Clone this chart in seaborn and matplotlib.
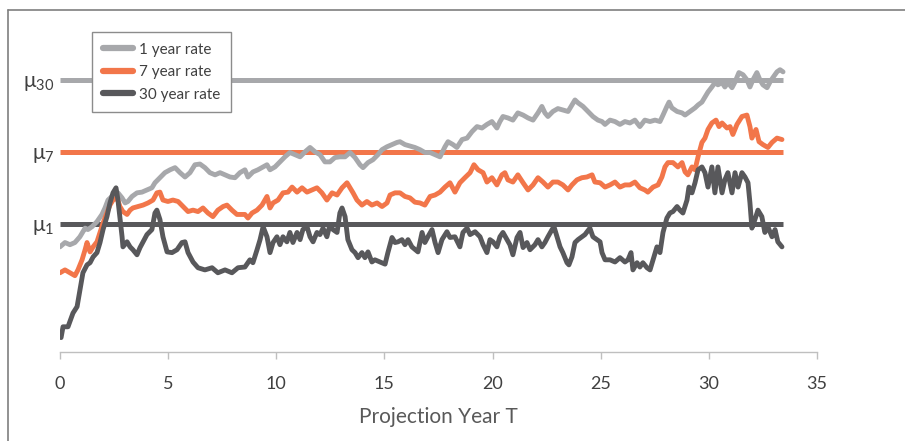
import matplotlib
matplotlib.use("Agg")
import matplotlib.pyplot as plt
from matplotlib.lines import Line2D
import seaborn as sns

# long-run means (drawn as flat reference lines)
mu_labels = ["μ$_{30}$", "μ$_{7}$", "μ$_{1}$"]
mu_levels = [3.0, 2.0, 1.0]
mu_end = 33.43

# 1 year rate
t_1y = [0.00, 0.23, 0.46, 0.69, 0.92, 1.16, 1.29, 1.48, 1.71, 1.94, 2.08, 2.22, 2.40, 2.54, 2.68, 2.87,
        3.01, 3.14, 3.33, 3.56, 3.79, 4.02, 4.25, 4.39, 4.62, 4.85, 5.09, 5.32, 5.55, 5.78, 6.01, 6.24,
        6.47, 6.70, 6.93, 7.17, 7.40, 7.63, 7.86, 8.09, 8.32, 8.55, 8.69, 8.92, 9.15, 9.39, 9.57, 9.71,
        9.94, 10.17, 10.40, 10.63, 10.86, 11.10, 11.33, 11.56, 11.79, 12.02, 12.25, 12.48, 12.71, 12.94,
        13.18, 13.41, 13.64, 13.87, 14.01, 14.24, 14.47, 14.70, 14.89, 15.12, 15.35, 15.58, 15.72, 15.95,
        16.18, 16.41, 16.64, 16.87, 17.11, 17.34, 17.57, 17.80, 17.94, 18.17, 18.35, 18.59, 18.82, 19.05,
        19.28, 19.51, 19.74, 19.97, 20.20, 20.34, 20.48, 20.71, 20.94, 21.17, 21.41, 21.64, 21.87, 22.10,
        22.28, 22.42, 22.56, 22.79, 23.02, 23.25, 23.49, 23.67, 23.81, 23.95, 24.18, 24.41, 24.64, 24.87,
        25.06, 25.20, 25.43, 25.66, 25.89, 26.12, 26.35, 26.58, 26.81, 27.04, 27.28, 27.51, 27.74, 27.88,
        28.06, 28.16, 28.29, 28.53, 28.76, 28.90, 29.13, 29.36, 29.50, 29.68, 29.82, 29.96, 30.14, 30.28,
        30.42, 30.61, 30.74, 30.88, 31.07, 31.21, 31.39, 31.58, 31.76, 31.90, 32.04, 32.22, 32.36, 32.50,
        32.69, 32.83, 32.96, 33.15, 33.29, 33.43]
r_1y = [0.68, 0.74, 0.71, 0.74, 0.82, 0.94, 0.92, 0.96, 1.03, 1.13, 1.22, 1.33, 1.38, 1.40, 1.43, 1.36,
        1.29, 1.31, 1.38, 1.43, 1.44, 1.47, 1.50, 1.57, 1.64, 1.71, 1.75, 1.78, 1.71, 1.65, 1.71, 1.82,
        1.83, 1.78, 1.71, 1.68, 1.71, 1.68, 1.65, 1.64, 1.71, 1.75, 1.65, 1.72, 1.75, 1.79, 1.82, 1.75,
        1.79, 1.86, 1.93, 1.99, 1.96, 1.93, 2.00, 2.06, 2.00, 1.96, 1.86, 1.86, 1.92, 1.93,
        1.93, 1.99, 1.92, 1.82, 1.78, 1.85, 1.89, 1.96, 2.03, 2.07, 2.10, 2.13, 2.14, 2.10,
        2.08, 2.06, 2.03, 1.99, 1.99, 1.96, 1.93, 2.07, 2.14, 2.10, 2.06, 2.17, 2.19, 2.28,
        2.35, 2.33, 2.38, 2.42, 2.33, 2.42, 2.49, 2.47, 2.44, 2.54, 2.51, 2.47, 2.44, 2.54,
        2.63, 2.54, 2.49, 2.56, 2.60, 2.58, 2.56, 2.65, 2.72, 2.68, 2.63, 2.56, 2.49, 2.44,
        2.42, 2.38, 2.44, 2.42, 2.38, 2.42, 2.40, 2.44, 2.35, 2.44, 2.42, 2.44, 2.42, 2.51,
        2.63, 2.69, 2.61, 2.56, 2.54, 2.51, 2.56, 2.61, 2.65, 2.69, 2.76, 2.83, 2.90, 2.96,
        2.93, 2.96, 2.90, 2.96, 2.89, 2.97, 3.10, 3.07, 3.00, 2.90, 3.00, 3.10, 3.00, 2.93,
        2.89, 2.97, 3.03, 3.11, 3.14, 3.11]

# 7 year rate
t_7y = [0.00, 0.23, 0.46, 0.69, 0.83, 1.02, 1.16, 1.25, 1.39, 1.53, 1.71, 1.85, 1.99, 2.17, 2.31, 2.45,
        2.64, 2.77, 2.91, 3.10, 3.24, 3.37, 3.61, 3.84, 4.07, 4.30, 4.48, 4.62, 4.76, 4.99, 5.22, 5.46,
        5.69, 5.92, 6.15, 6.38, 6.61, 6.84, 7.07, 7.30, 7.54, 7.72, 7.95, 8.18, 8.32, 8.55, 8.69, 8.88,
        9.11, 9.34, 9.57, 9.71, 9.85, 10.08, 10.31, 10.54, 10.73, 10.96, 11.19, 11.42, 11.65, 11.88,
        12.11, 12.34, 12.58, 12.81, 13.04, 13.27, 13.41, 13.55, 13.73, 13.96, 14.19, 14.42, 14.66, 14.89,
        15.12, 15.26, 15.49, 15.72, 15.95, 16.18, 16.41, 16.64, 16.87, 17.11, 17.34, 17.57, 17.80, 18.03,
        18.26, 18.49, 18.72, 18.96, 19.14, 19.33, 19.56, 19.74, 19.97, 20.20, 20.43, 20.57, 20.71, 20.94,
        21.17, 21.41, 21.64, 21.87, 22.10, 22.33, 22.56, 22.79, 23.02, 23.25, 23.49, 23.67, 23.90, 24.13,
        24.36, 24.60, 24.73, 24.97, 25.20, 25.43, 25.66, 25.89, 26.12, 26.35, 26.58, 26.81, 27.04, 27.18,
        27.42, 27.65, 27.83, 27.97, 28.11, 28.34, 28.57, 28.76, 28.90, 29.03, 29.22, 29.36, 29.50, 29.68,
        29.82, 29.96, 30.14, 30.33, 30.47, 30.61, 30.84, 30.98, 31.11, 31.30, 31.53, 31.76, 31.90, 31.99,
        32.18, 32.32, 32.50, 32.73, 32.92, 33.15, 33.38]
r_7y = [0.32, 0.36, 0.32, 0.28, 0.36, 0.50, 0.64, 0.74, 0.61, 0.68, 0.75, 0.88, 1.01, 1.15, 1.26, 1.33,
        1.36, 1.24, 1.17, 1.13, 1.19, 1.22, 1.24, 1.26, 1.29, 1.33, 1.43, 1.44, 1.33, 1.31, 1.33, 1.31,
        1.24, 1.17, 1.19, 1.17, 1.22, 1.15, 1.10, 1.19, 1.24, 1.26, 1.19, 1.13, 1.13, 1.13, 1.08, 1.15,
        1.19, 1.26, 1.38, 1.22, 1.29, 1.33, 1.43, 1.44, 1.51, 1.44, 1.50, 1.44, 1.47, 1.50,
        1.43, 1.33, 1.43, 1.40, 1.50, 1.57, 1.50, 1.43, 1.33, 1.26, 1.31, 1.26, 1.29, 1.24,
        1.29, 1.40, 1.43, 1.43, 1.38, 1.36, 1.30, 1.29, 1.26, 1.38, 1.40, 1.44, 1.51, 1.57,
        1.44, 1.57, 1.64, 1.71, 1.82, 1.75, 1.71, 1.58, 1.64, 1.54, 1.68, 1.71, 1.61, 1.58,
        1.68, 1.57, 1.47, 1.54, 1.64, 1.58, 1.51, 1.58, 1.58, 1.54, 1.47, 1.54, 1.61, 1.64,
        1.65, 1.68, 1.58, 1.57, 1.51, 1.54, 1.58, 1.51, 1.54, 1.54, 1.58, 1.50, 1.47, 1.44,
        1.51, 1.54, 1.65, 1.79, 1.85, 1.85, 1.79, 1.85, 1.72, 1.68, 1.79, 1.75, 1.93, 2.13,
        2.19, 2.31, 2.40, 2.44, 2.35, 2.40, 2.33, 2.35, 2.24, 2.38, 2.49, 2.51, 2.35, 2.19,
        2.31, 2.14, 2.10, 2.06, 2.13, 2.19, 2.17]

# 30 year rate
t_30y = [0.05, 0.14, 0.37, 0.60, 0.79, 0.92, 1.06, 1.25, 1.39, 1.53, 1.71, 1.85, 1.99, 2.17, 2.31, 2.45,
         2.59, 2.68, 2.87, 2.91, 3.10, 3.24, 3.37, 3.56, 3.70, 3.84, 4.02, 4.25, 4.39, 4.48, 4.62, 4.76,
         4.95, 5.18, 5.41, 5.64, 5.78, 5.92, 6.15, 6.38, 6.70, 7.03, 7.30, 7.63, 7.95, 8.23, 8.55, 8.78,
         8.92, 9.11, 9.25, 9.39, 9.57, 9.71, 9.85, 10.03, 10.17, 10.31, 10.49, 10.63, 10.77, 10.96, 11.10,
         11.23, 11.42, 11.56, 11.70, 11.88, 12.02, 12.16, 12.34, 12.48, 12.62, 12.81, 12.94, 13.04, 13.18,
         13.31, 13.50, 13.64, 13.78, 13.96, 14.10, 14.24, 14.42, 14.56, 14.79, 15.03, 15.16, 15.35, 15.49,
         15.63, 15.81, 15.95, 16.09, 16.27, 16.55, 16.74, 16.87, 17.01, 17.20, 17.34, 17.48, 17.66, 17.89,
         18.03, 18.26, 18.49, 18.63, 18.82, 18.96, 19.19, 19.42, 19.56, 19.74, 19.88, 20.02, 20.20, 20.34,
         20.48, 20.67, 20.80, 20.94, 21.13, 21.27, 21.41, 21.59, 21.73, 21.96, 22.10, 22.28, 22.42, 22.56,
         22.75, 22.84, 22.98, 23.12, 23.25, 23.44, 23.53, 23.67, 23.81, 23.95, 24.13, 24.27, 24.50, 24.64,
         24.83, 24.97, 25.06, 25.20, 25.43, 25.66, 25.89, 26.12, 26.26, 26.40, 26.49, 26.68, 26.81, 26.95,
         27.14, 27.28, 27.42, 27.60, 27.74, 27.88, 28.06, 28.20, 28.34, 28.53, 28.66, 28.80, 28.99, 29.08,
         29.22, 29.36, 29.50, 29.68, 29.82, 29.96, 30.14, 30.28, 30.42, 30.61, 30.74, 30.88, 31.07, 31.21,
         31.35, 31.53, 31.67, 31.81, 31.90, 31.99, 32.13, 32.27, 32.45, 32.59, 32.73, 32.92, 33.06, 33.19,
         33.38]
r_30y = [-0.58, -0.43, -0.43, -0.24, -0.15, 0.08, 0.32, 0.43, 0.46, 0.54, 0.60, 0.74, 0.92, 1.10, 1.29, 1.43,
         1.50, 1.33, 0.82, 0.68, 0.75, 0.68, 0.64, 0.57, 0.67, 0.75, 0.85, 0.92, 1.15, 1.19, 1.06, 0.82,
         0.61, 0.60, 0.64, 0.74, 0.75, 0.60, 0.47, 0.39, 0.36, 0.39, 0.32, 0.36, 0.32, 0.39, 0.40, 0.50,
         0.46, 0.64, 0.78, 0.96, 0.82, 0.60, 0.74, 0.82, 0.71, 0.82, 0.75, 0.88, 0.74, 0.88, 0.78,
         0.92, 0.96, 0.82, 0.75, 0.88, 0.85, 0.94, 0.82, 0.99, 0.92, 0.88, 1.15, 1.22, 1.10,
         0.78, 0.64, 0.60, 0.53, 0.60, 0.53, 0.61, 0.47, 0.50, 0.47, 0.44, 0.60, 0.81, 0.74,
         0.75, 0.78, 0.71, 0.78, 0.68, 0.61, 0.88, 0.74, 0.82, 0.92, 0.74, 0.60, 0.78, 0.89,
         0.81, 0.82, 0.68, 0.88, 0.94, 0.85, 0.89, 0.82, 0.71, 0.60, 0.78, 0.75, 0.68, 0.82,
         0.88, 0.78, 0.71, 0.57, 0.81, 0.88, 0.67, 0.74, 0.64, 0.71, 0.78, 0.68, 0.74, 0.82,
         0.92, 0.96, 0.82, 0.68, 0.60, 0.46, 0.43, 0.54, 0.74, 0.78, 0.82, 0.85, 0.94, 0.82,
         0.78, 0.75, 0.60, 0.50, 0.50, 0.47, 0.53, 0.47, 0.50, 0.60, 0.36, 0.46, 0.40, 0.46,
         0.39, 0.36, 0.50, 0.68, 0.60, 0.88, 1.08, 1.15, 1.17, 1.24, 1.19, 1.15, 1.33, 1.51,
         1.43, 1.57, 1.75, 1.79, 1.71, 1.51, 1.79, 1.43, 1.79, 1.43, 1.61, 1.71, 1.43, 1.71,
         1.51, 1.71, 1.65, 1.57, 1.29, 0.94, 1.06, 1.19, 1.10, 0.88, 0.96, 0.82, 0.92, 0.75,
         0.68]

series_names = ["1 year rate", "7 year rate", "30 year rate"]
colors = ["#A7A8AB", "#F2764A", "#58585B"]

sns.set_theme(style="white")
plt.rcParams["font.family"] = ["Lato", "DejaVu Sans"]
plt.rcParams["mathtext.fontset"] = "custom"
plt.rcParams["mathtext.rm"] = "Lato"
plt.rcParams["mathtext.default"] = "regular"

fig = plt.figure(figsize=(9.05, 4.41), dpi=100)
ax = fig.add_axes([60 / 905, 1 - 352 / 441, (817 - 60) / 905, (352 - 20) / 441])

# flat mean lines
for lvl, c in zip(mu_levels, colors):
    ax.hlines(lvl, 0, mu_end, colors=c, lw=3.6, zorder=1)

for t, r, name, c in zip([t_1y, t_7y, t_30y], [r_1y, r_7y, r_30y], series_names, colors):
    sns.lineplot(x=t, y=r, ax=ax, color=c, lw=3.5, label=name, estimator=None,
                 solid_joinstyle="round", solid_capstyle="round", zorder=2)

ax.set_xlim(0, 35)
ax.set_ylim(-0.78, 3.83)
ax.set_xticks(range(0, 36, 5))
ax.set_yticks(mu_levels)
ax.set_yticklabels(mu_labels, fontsize=15, color="#404040")
ax.tick_params(axis="y", length=0, pad=4)
ax.tick_params(axis="x", direction="out", length=5, width=1, color="#BFBFBF",
               labelsize=13, labelcolor="#404040", pad=12, bottom=True)
for side in ["top", "right", "left"]:
    ax.spines[side].set_visible(False)
ax.spines["bottom"].set_color("#BFBFBF")
ax.spines["bottom"].set_linewidth(1)
ax.set_xlabel("Projection Year T", fontsize=15, color="#595959")
ax.xaxis.set_label_coords(0.5, -0.165)
ax.set_ylabel("")

leg = ax.legend(loc="upper left", bbox_to_anchor=(92 / 905, 1 - 32 / 441), bbox_transform=fig.transFigure,
                borderaxespad=0, fontsize=11, frameon=True, fancybox=False, handlelength=2.0,
                handletextpad=0.4, labelspacing=0.55, borderpad=0.7)
leg.get_frame().set_edgecolor("#8C8C8C")
leg.get_frame().set_linewidth(1)
leg.get_frame().set_alpha(1)
for txt in leg.get_texts():
    txt.set_color("#404040")
for h in leg.get_lines():
    h.set_solid_capstyle("round")
    h.set_linewidth(4.5)

# outer frame of the figure (top and left edges)
fig.add_artist(Line2D([8 / 905, 1], [1 - 10 / 441, 1 - 10 / 441], transform=fig.transFigure, color="#7F7F7F", lw=1.2))
fig.add_artist(Line2D([8 / 905, 8 / 905], [0, 1 - 10 / 441], transform=fig.transFigure, color="#7F7F7F", lw=1.2))

fig.savefig("out.png", dpi=100)
